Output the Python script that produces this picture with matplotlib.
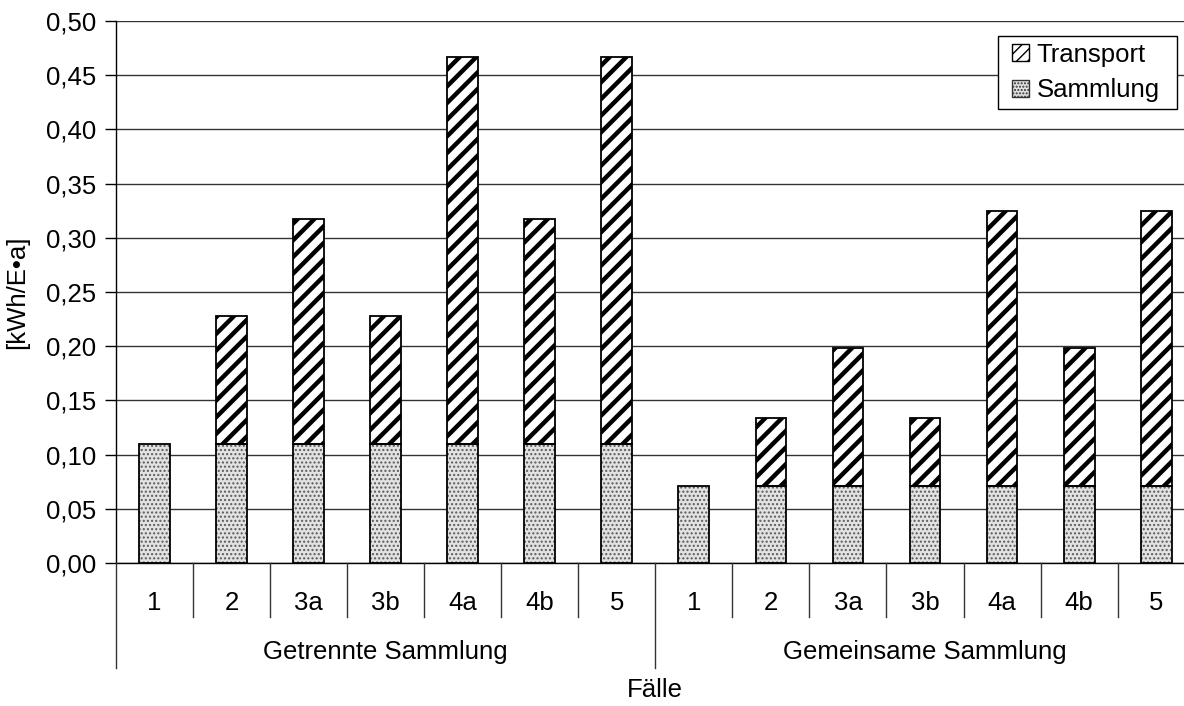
import matplotlib
matplotlib.use("Agg")
import matplotlib.pyplot as plt
import matplotlib.transforms as mtransforms
from matplotlib.patches import Patch, Rectangle

plt.rcParams['font.family'] = ['Liberation Sans', 'DejaVu Sans']

# Data
groups = ["Getrennte Sammlung", "Gemeinsame Sammlung"]
cases = ["1", "2", "3a", "3b", "4a", "4b", "5"]
sammlung_getrennt = [0.110, 0.110, 0.110, 0.110, 0.110, 0.110, 0.110]
transport_getrennt = [0.000, 0.118, 0.207, 0.118, 0.357, 0.207, 0.357]
sammlung_gemeinsam = [0.071, 0.071, 0.071, 0.071, 0.071, 0.071, 0.071]
transport_gemeinsam = [0.000, 0.063, 0.127, 0.063, 0.254, 0.127, 0.254]

labels = cases + cases
sammlung = sammlung_getrennt + sammlung_gemeinsam
transport = transport_getrennt + transport_gemeinsam
x = list(range(len(labels)))

FS = 18.5
W, H = 1184, 706
fig = plt.figure(figsize=(W / 100, H / 100), dpi=100)
left, right, top, bottom = 116, 1194.7, 21, 563
ax = fig.add_axes([left / W, 1 - bottom / H, (right - left) / W, (bottom - top) / H])

bw = 0.40
# Sammlung: stippled gray fill, then black outline
plt.rcParams['hatch.linewidth'] = 1.0
ax.bar(x, sammlung, width=bw, color='#e2e2e2', edgecolor='#5a5a5a',
       linewidth=0, hatch='....', zorder=3)
ax.bar(x, sammlung, width=bw, fill=False, edgecolor='black', linewidth=1.3, zorder=4)

# Transport: black diagonal stripes
plt.rcParams['hatch.linewidth'] = 3.2
ax.bar(x, transport, width=bw, bottom=sammlung, color='white', edgecolor='black',
       linewidth=0, hatch='//', zorder=3)
ax.bar([xi for xi, t in zip(x, transport) if t > 0],
       [t for t in transport if t > 0], width=bw,
       bottom=[s for s, t in zip(sammlung, transport) if t > 0],
       fill=False, edgecolor='black', linewidth=1.3, zorder=4)

ax.set_xlim(-0.5, len(labels) - 0.5)
ax.set_ylim(0, 0.5)
yt = [i * 0.05 for i in range(11)]
ax.set_yticks(yt)
ax.set_yticklabels([f"{v:.2f}".replace('.', ',') for v in yt], fontsize=FS)
ax.tick_params(axis='y', length=8, width=1, color='black', pad=6)
ax.yaxis.grid(True, color='#333333', linewidth=1.0)
ax.set_axisbelow(True)

for s in ['top', 'right']:
    ax.spines[s].set_visible(False)
ax.spines['left'].set_color('black')
ax.spines['bottom'].set_color('black')
ax.spines['left'].set_linewidth(1.0)
ax.spines['bottom'].set_linewidth(1.0)

ax.set_xticks(x)
ax.set_xticklabels(labels, fontsize=FS)
ax.tick_params(axis='x', length=0, pad=20)

# Category separators below the axis
axh = bottom - top
trans = mtransforms.blended_transform_factory(ax.transData, ax.transAxes)
short = -(617 - bottom) / axh
long_ = -(668 - bottom) / axh
for k in range(len(labels) + 1):
    xb = k - 0.5
    ylow = long_ if k % len(cases) == 0 else short
    ax.plot([xb, xb], [0, ylow], transform=trans, color='#333333',
            linewidth=1.0, clip_on=False, zorder=5)

for gi, g in enumerate(groups):
    xc = gi * len(cases) + (len(cases) - 1) / 2
    ax.text(xc, -(652 - bottom) / axh, g, transform=trans, ha='center',
            va='center', fontsize=FS)

ax.text(0.5 * (len(labels) - 1), -(690 - bottom) / axh, "Fälle", transform=trans,
        ha='center', va='center', fontsize=FS)

fig.text(17 / W, 1 - 292 / H, "[kWh/E•a]", rotation=90, ha='center', va='center',
         fontsize=FS)

# Legend box and entries
lx0, ly0, lx1, ly1 = 998, 36, 1177, 109
fig.patches.append(Rectangle((lx0 / W, 1 - ly1 / H), (lx1 - lx0) / W, (ly1 - ly0) / H,
                             transform=fig.transFigure, facecolor='white',
                             edgecolor='black', linewidth=1.0, zorder=6))
plt.rcParams['hatch.linewidth'] = 2.5
h_tr = Patch(facecolor='white', edgecolor='black', hatch='///', linewidth=1.0)
plt.rcParams['hatch.linewidth'] = 1.0
h_sa = Patch(facecolor='#e2e2e2', edgecolor='#333333', hatch='.....', linewidth=1.0)
leg = fig.legend([h_tr, h_sa], ["Transport", "Sammlung"],
                 loc='center left', bbox_to_anchor=(1012 / W, 1 - 72.5 / H),
                 fontsize=FS, frameon=False, handlelength=0.65, handleheight=0.65,
                 handletextpad=0.3, borderpad=0, labelspacing=0.45,
                 borderaxespad=0)
leg.set_zorder(7)

fig.savefig("out.png", dpi=100)
